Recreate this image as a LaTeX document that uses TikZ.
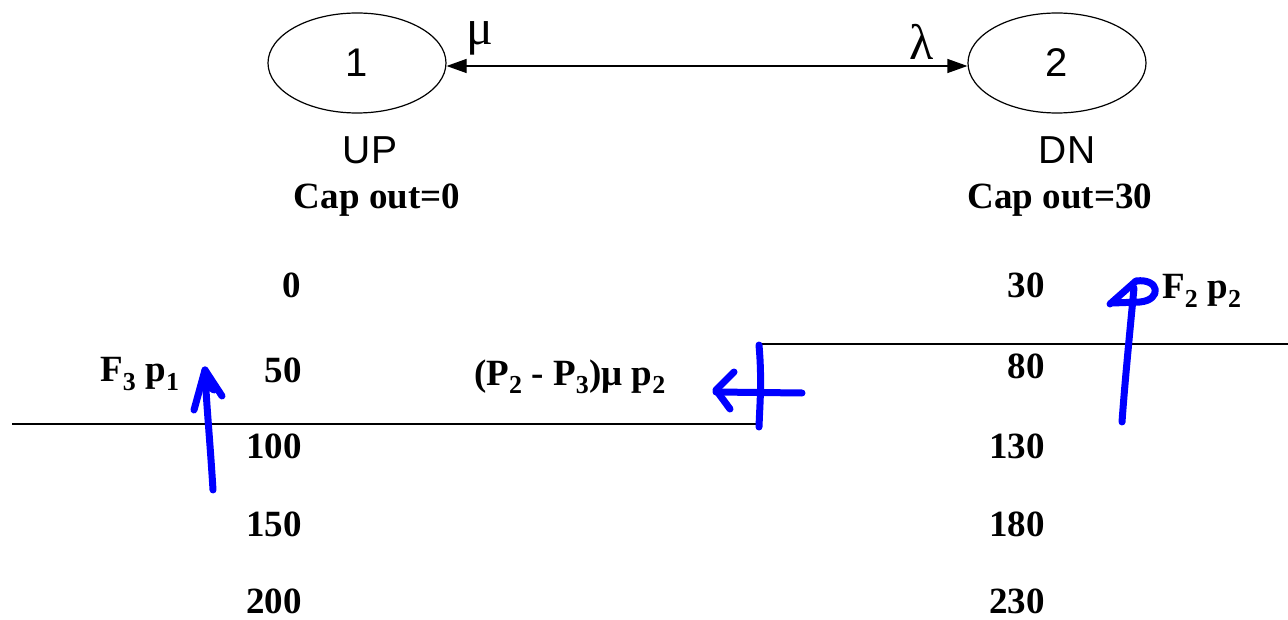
\documentclass[tikz,border=0pt]{standalone}
\usepackage{fontspec}
\setmainfont{Liberation Serif}
\newfontfamily\arialfont{Liberation Sans}
\usetikzlibrary{arrows.meta,shapes.geometric}
\tikzset{
  state/.style={draw,ellipse,line width=1.2pt,minimum width=178pt,minimum height=100pt,inner sep=0pt,
    font=\arialfont\fontsize{40}{44}\selectfont},
  lbl/.style={font=\arialfont\fontsize{39}{42}\selectfont,inner sep=0pt},
  val/.style={font=\bfseries\fontsize{37}{40}\selectfont,inner sep=0pt},
  greek/.style={font=\fontsize{50}{52}\selectfont,inner sep=0pt},
  hline/.style={line width=1.3pt},
  pen/.style={draw=blue,line width=7pt,line cap=round,line join=round}
}
\begin{document}
\begin{tikzpicture}[x=1pt,y=-1pt]
\useasboundingbox (0,0) rectangle (1288,620);
% states
\node[state] (s1) at (357,63) {1};
\node[state] (s2) at (1057,63) {2};
\draw[line width=1.2pt,{Triangle[length=20pt,width=14pt]}-{Triangle[length=20pt,width=14pt]}]
  ([yshift=-3pt]s1.east) -- ([yshift=-3pt]s2.west);
\node[greek] (mu) at (480,38) {μ};
\node[greek] (lam) at (922,42) {λ};
\node[lbl] (up) at (370,150) {UP};
\node[lbl] (dn) at (1067,150) {DN};
\node[val] (cap1) at (377,200) {Cap out=0};
\node[val] (cap2) at (1060,200) {Cap out=30};
% left values
\node[val,anchor=east] (l0) at (301,285) {0};
\node[val,anchor=east] (l50) at (302,370) {50};
\node[val,anchor=east] (l100) at (302,446) {100};
\node[val,anchor=east] (l150) at (302,524) {150};
\node[val,anchor=east] (l200) at (302,601) {200};
% right values
\node[val,anchor=east] (r30) at (1045,285) {30};
\node[val,anchor=east] (r80) at (1045,366) {80};
\node[val,anchor=east] (r130) at (1045,446) {130};
\node[val,anchor=east] (r180) at (1045,524) {180};
\node[val,anchor=east] (r230) at (1045,601) {230};
% labels
\node[val] (f3) at (140,374) {F\textsubscript{3} p\textsubscript{1}};
\node[val] (pp) at (570,377) {(P\textsubscript{2} - P\textsubscript{3})μ p\textsubscript{2}};
\node[val] (f2) at (1202,291) {F\textsubscript{2} p\textsubscript{2}};
% black lines
\coordinate (a1) at (12,424);
\coordinate (a2) at (757,424);
\coordinate (b1) at (757,344);
\coordinate (b2) at (1288,344);
\draw[hline] (a1) -- (a2);
\draw[hline] (b1) -- (b2);
% blue hand strokes
\draw[pen] (213,490) .. controls (210,440) and (206,400) .. (205,370);
\draw[pen] (194,410) -- (205,370) -- (222,396);
\draw[pen] (202,382) -- (214,390);
\draw[pen] (759,345) .. controls (762,380) and (760,400) .. (759,427);
\draw[pen] (716,392) -- (802,393);
\draw[pen] (734,372) -- (716,390) -- (730,409);
\draw[pen] (1122,422) .. controls (1125,380) and (1130,330) .. (1134,288);
\draw[pen] (1110,304) -- (1136,281) .. controls (1160,278) and (1162,300) .. (1140,302) -- (1112,303);
\end{tikzpicture}
\end{document}
